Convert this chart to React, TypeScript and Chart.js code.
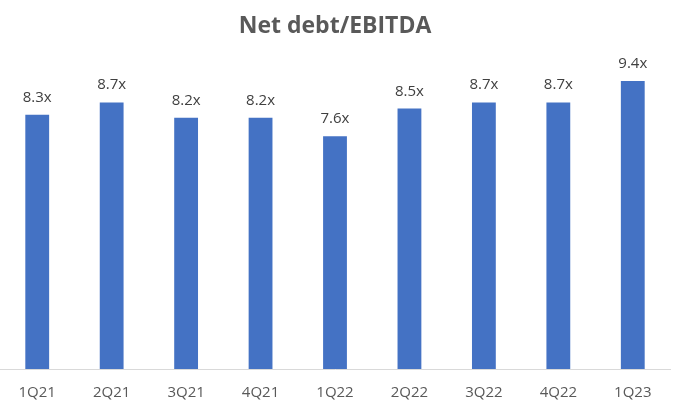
import React, { useEffect, useRef } from "react";
import { Chart, registerables } from "chart.js";

Chart.register(...registerables);

const categories = ["1Q21", "2Q21", "3Q21", "4Q21", "1Q22", "2Q22", "3Q22", "4Q22", "1Q23"];
const netDebtEbitda = [8.3, 8.7, 8.2, 8.2, 7.6, 8.5, 8.7, 8.7, 9.4];
const titleText = "Net debt/EBITDA";

const labelPlugin = {
  id: "barLabels",
  afterDatasetsDraw(chart: any) {
    const ctx = chart.ctx;
    const meta = chart.getDatasetMeta(0);
    ctx.save();
    ctx.font = "15px 'Open Sans'";
    ctx.fillStyle = "#404040";
    ctx.textAlign = "center";
    ctx.textBaseline = "alphabetic";
    meta.data.forEach((bar: any, i: number) => {
      const v = chart.data.datasets[0].data[i] as number;
      ctx.fillText(v.toFixed(1) + "x", bar.x, bar.y - 13);
    });
    ctx.restore();
  },
};

export default function App() {
  const ref = useRef<HTMLCanvasElement>(null);
  useEffect(() => {
    if (!ref.current) return;
    const chart = new Chart(ref.current, {
      type: "bar",
      data: {
        labels: categories,
        datasets: [
          {
            data: netDebtEbitda,
            backgroundColor: "#4472C4",
            categoryPercentage: 1,
            barPercentage: 0.32,
          },
        ],
      },
      options: {
        animation: false,
        responsive: false,
        layout: { padding: { left: 0, right: 6, top: 0, bottom: 5 } },
        plugins: {
          legend: { display: false },
          tooltip: { enabled: false },
          title: {
            display: true,
            text: titleText,
            color: "#595959",
            font: { family: "'Open Sans'", size: 23, weight: "bold" },
            padding: { top: 13, bottom: 22 },
          },
        },
        scales: {
          x: {
            grid: { display: false, drawTicks: false },
            border: { display: true, color: "#D9D9D9", width: 1 },
            ticks: {
              color: "#595959",
              font: { family: "'Open Sans'", size: 15 },
              padding: 15,
              maxRotation: 0,
            },
          },
          y: {
            display: false,
            min: 0,
            max: 10,
          },
        },
      },
      plugins: [labelPlugin],
    });
    return () => chart.destroy();
  }, []);
  return (
    <div style={{ position: "absolute", left: 0, top: 0, width: 676, height: 406, overflow: "hidden", background: "#fff" }}>
      <canvas ref={ref} width={676} height={422} style={{ display: "block" }} />
    </div>
  );
}
